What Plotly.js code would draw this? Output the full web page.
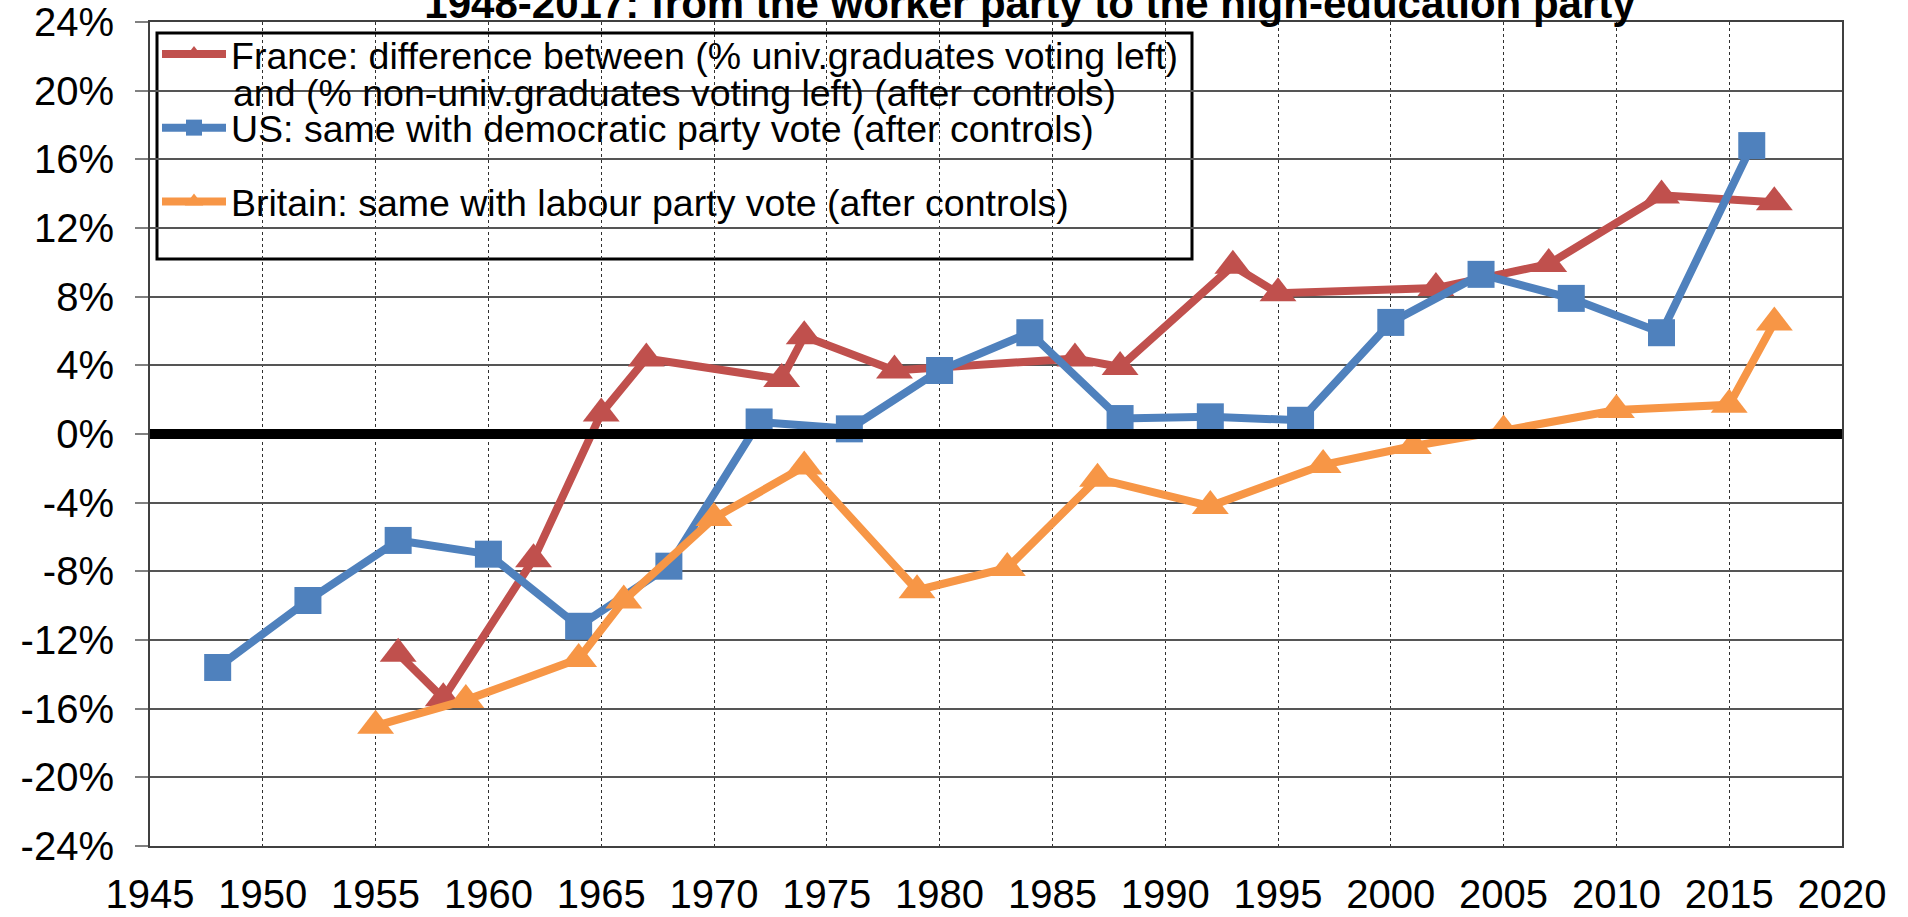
<!DOCTYPE html>
<html>
<head>
<meta charset="utf-8">
<script src="https://cdn.plot.ly/plotly-3.0.1.min.js"></script>
<style>
  html, body { margin: 0; padding: 0; background: #fff; }
  #chart { width: 1908px; height: 917px; }
</style>
</head>
<body>
<div id="chart"></div>
<script>
// Election years and gap (% univ. graduates voting left minus % non-graduates), in %
const franceYears = [1956, 1958, 1962, 1965, 1967, 1973, 1974, 1978, 1986, 1988, 1993, 1995, 2002, 2007, 2012, 2017];
const franceGap = [-12.8, -15.4, -7.3, 1.2, 4.4, 3.2, 5.7, 3.7, 4.4, 3.9, 9.8, 8.2, 8.5, 9.9, 13.9, 13.5];

const usYears = [1948, 1952, 1956, 1960, 1964, 1968, 1972, 1976, 1980, 1984, 1988, 1992, 1996, 2000, 2004, 2008, 2012, 2016];
const usGap = [-13.6, -9.7, -6.2, -7.0, -11.2, -7.7, 0.7, 0.3, 3.7, 5.9, 0.9, 1.0, 0.8, 6.5, 9.3, 7.9, 5.9, 16.8];

const britainYears = [1955, 1959, 1964, 1966, 1970, 1974, 1979, 1983, 1987, 1992, 1997, 2001, 2005, 2010, 2015, 2017];
const britainGap = [-17.0, -15.5, -13.1, -9.7, -4.9, -1.9, -9.1, -7.8, -2.6, -4.2, -1.8, -0.7, 0.2, 1.4, 1.7, 6.5];

// y axis ticks (Excel style, plain hyphen for negatives)
const yTickVals = [-24, -20, -16, -12, -8, -4, 0, 4, 8, 12, 16, 20, 24];
const yTickText = ['-24%', '-20%', '-16%', '-12%', '-8%', '-4%', '0%', '4%', '8%', '12%', '16%', '20%', '24%'];

const font = 'Arial, "Liberation Sans", sans-serif';
const W = 1908;
const H = 917;
const M = { l: 150, r: 66, t: 22, b: 71 };

// pixel -> paper helpers (for legend box placement)
const px = (x) => (x - M.l) / (W - M.l - M.r);
const py = (y) => (H - M.b - y) / (H - M.t - M.b);

const data = [
  {
    x: franceYears,
    y: franceGap,
    name: 'France: difference between (% univ.graduates voting left)',
    legendgroup: 'fr',
    type: 'scatter',
    mode: 'lines+markers',
    line: { color: '#C0504D', width: 8 },
    marker: { symbol: 'triangle-up', size: 32, color: '#C0504D' },
  },
  {
    x: usYears,
    y: usGap,
    name: 'US: same with democratic party vote (after controls)',
    legendgroup: 'us',
    type: 'scatter',
    mode: 'lines+markers',
    line: { color: '#4F81BD', width: 8 },
    marker: { symbol: 'square', size: 27, color: '#4F81BD' },
  },
  {
    x: britainYears,
    y: britainGap,
    name: 'Britain: same with labour party vote (after controls)',
    legendgroup: 'gb',
    type: 'scatter',
    mode: 'lines+markers',
    line: { color: '#F79646', width: 8 },
    marker: { symbol: 'triangle-up', size: 32, color: '#F79646' },
  },
];

const layout = {
  width: W,
  height: H,
  margin: M,
  paper_bgcolor: '#ffffff',
  plot_bgcolor: '#ffffff',
  font: { family: font, size: 40, color: '#000000' },
  title: {
    text: '<b>1948-2017: from the worker party to the high-education party</b>',
    font: { family: font, size: 42, color: '#000000' },
    x: 1030 / W,
    xanchor: 'center',
    y: 1 - 18 / H,
    yanchor: 'bottom',
  },
  showlegend: true,
  legend: {
    x: px(157),
    y: py(23),
    xanchor: 'left',
    yanchor: 'top',
    bgcolor: 'rgba(0,0,0,0)',
    borderwidth: 0,
    font: { family: font, size: 37.5, color: '#000000' },
    itemwidth: 64,
    tracegroupgap: 22,
  },
  annotations: [
    // second line of the France legend entry
    {
      xref: 'paper',
      yref: 'paper',
      x: px(231),
      y: py(93),
      xanchor: 'left',
      yanchor: 'middle',
      showarrow: false,
      text: 'and (% non-univ.graduates voting left) (after controls)',
      font: { family: font, size: 37.5, color: '#000000' },
    },
  ],
  xaxis: {
    range: [1945, 2020],
    dtick: 5,
    tick0: 1945,
    showgrid: true,
    gridcolor: '#303030',
    gridwidth: 1,
    griddash: 'dot',
    zeroline: false,
    showline: true,
    linecolor: '#404040',
    linewidth: 2,
    mirror: true,
    ticks: '',
    ticklabelstandoff: 12,
    tickfont: { family: font, size: 40 },
  },
  yaxis: {
    range: [-24, 24],
    tickvals: yTickVals,
    ticktext: yTickText,
    showgrid: true,
    gridcolor: '#555555',
    gridwidth: 2,
    zeroline: false,
    showline: true,
    linecolor: '#404040',
    linewidth: 2,
    mirror: true,
    ticks: 'outside',
    ticklen: 13,
    tickwidth: 2,
    tickcolor: '#808080',
    ticklabelstandoff: 13,
    tickfont: { family: font, size: 40 },
  },
  shapes: [
    // legend frame
    {
      type: 'rect',
      xref: 'paper',
      yref: 'paper',
      x0: px(157),
      x1: px(1192),
      y0: py(33),
      y1: py(259),
      layer: 'between',
      fillcolor: '#ffffff',
      line: { color: '#000000', width: 3 },
    },
    // thick zero line, drawn above the series like in the original
    {
      type: 'line',
      xref: 'paper',
      yref: 'y',
      x0: 0,
      x1: 1,
      y0: 0,
      y1: 0,
      layer: 'above',
      line: { color: '#000000', width: 10 },
    },
  ],
};

Plotly.newPlot('chart', data, layout, { displayModeBar: false, staticPlot: true });
</script>
</body>
</html>
